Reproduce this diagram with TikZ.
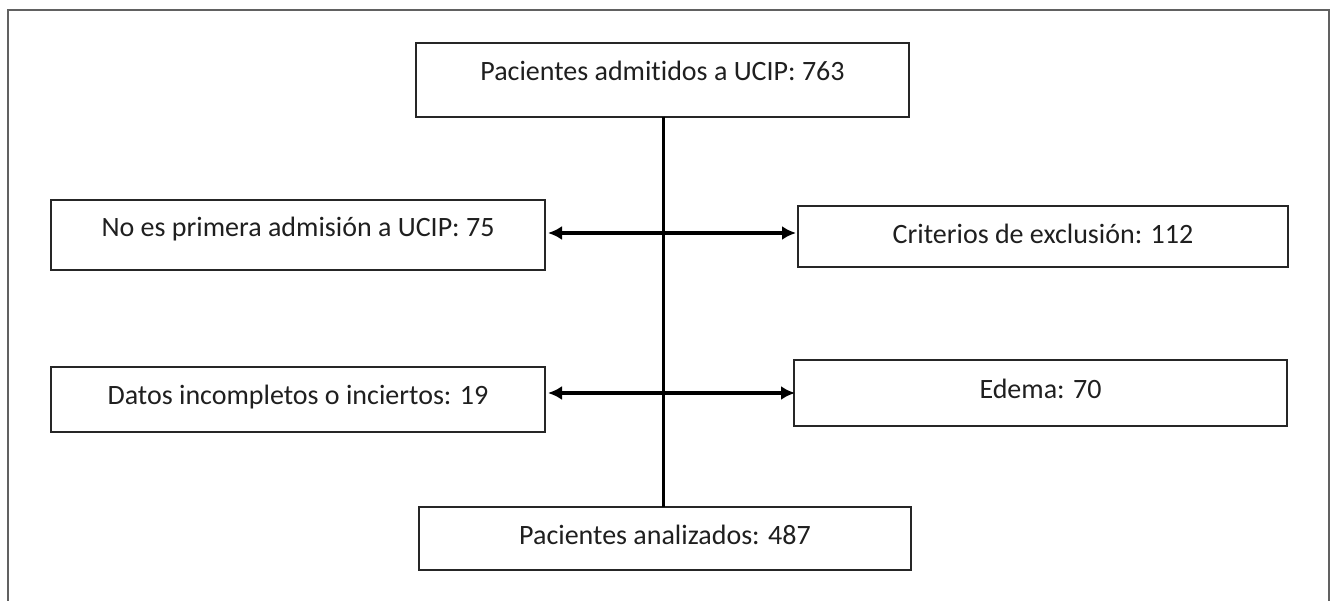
\documentclass[tikz,border=0pt]{standalone}
\usepackage{fontspec}
\setmainfont{Carlito}[Ligatures=NoCommon]
\usetikzlibrary{arrows.meta}
\begin{document}
\begin{tikzpicture}[x=1pt,y=-1pt,
  box/.style={draw=black!85,line width=2pt,inner sep=0pt,outer sep=0pt,
    font=\fontsize{28}{30}\selectfont,text=black!88,text height=18pt},
  arr/.style={line width=4pt,{Latex[length=14pt,width=14pt]}-{Latex[length=14pt,width=14pt]}},
  vline/.style={line width=3pt},
  frame/.style={draw=black!62,line width=2.5pt}]
\useasboundingbox (0,0) rectangle (1335,601);
\draw[frame] (8,605) -- (8,10) -- (1329,10) -- (1329,605);
\node[box,minimum width=493pt,minimum height=74pt,text depth=16pt] (top) at (662.5,80) {Pacientes admitidos a UCIP: 763};
\node[box,minimum width=494pt,minimum height=70pt,text depth=14pt] (l1) at (298,235) {No es primera admisión a UCIP: 75};
\node[box,minimum width=490pt,minimum height=61pt,text depth=3pt] (r1) at (1043,236.5) {Criterios de exclusión: 112};
\node[box,minimum width=494pt,minimum height=65pt,text depth=9pt] (l2) at (298,399.5) {Datos incompletos o inciertos: 19};
\node[box,minimum width=493pt,minimum height=66pt,text depth=8pt] (r2) at (1040.5,393) {Edema: 70};
\node[box,minimum width=492pt,minimum height=63pt,text depth=7pt] (bot) at (665,538.5) {Pacientes analizados: 487};
\coordinate (row1) at (0,233);
\coordinate (row2) at (0,393);
\draw[vline] ([xshift=0.5pt]top.south) -- ([xshift=0.5pt]top.south |- bot.north);
\draw[arr] ([xshift=3pt]l1.east |- row1) -- ([xshift=-2pt]r1.west |- row1);
\draw[arr] ([xshift=3pt]l2.east |- row2) -- ([xshift=1pt]r2.west |- row2);
\end{tikzpicture}
\end{document}
